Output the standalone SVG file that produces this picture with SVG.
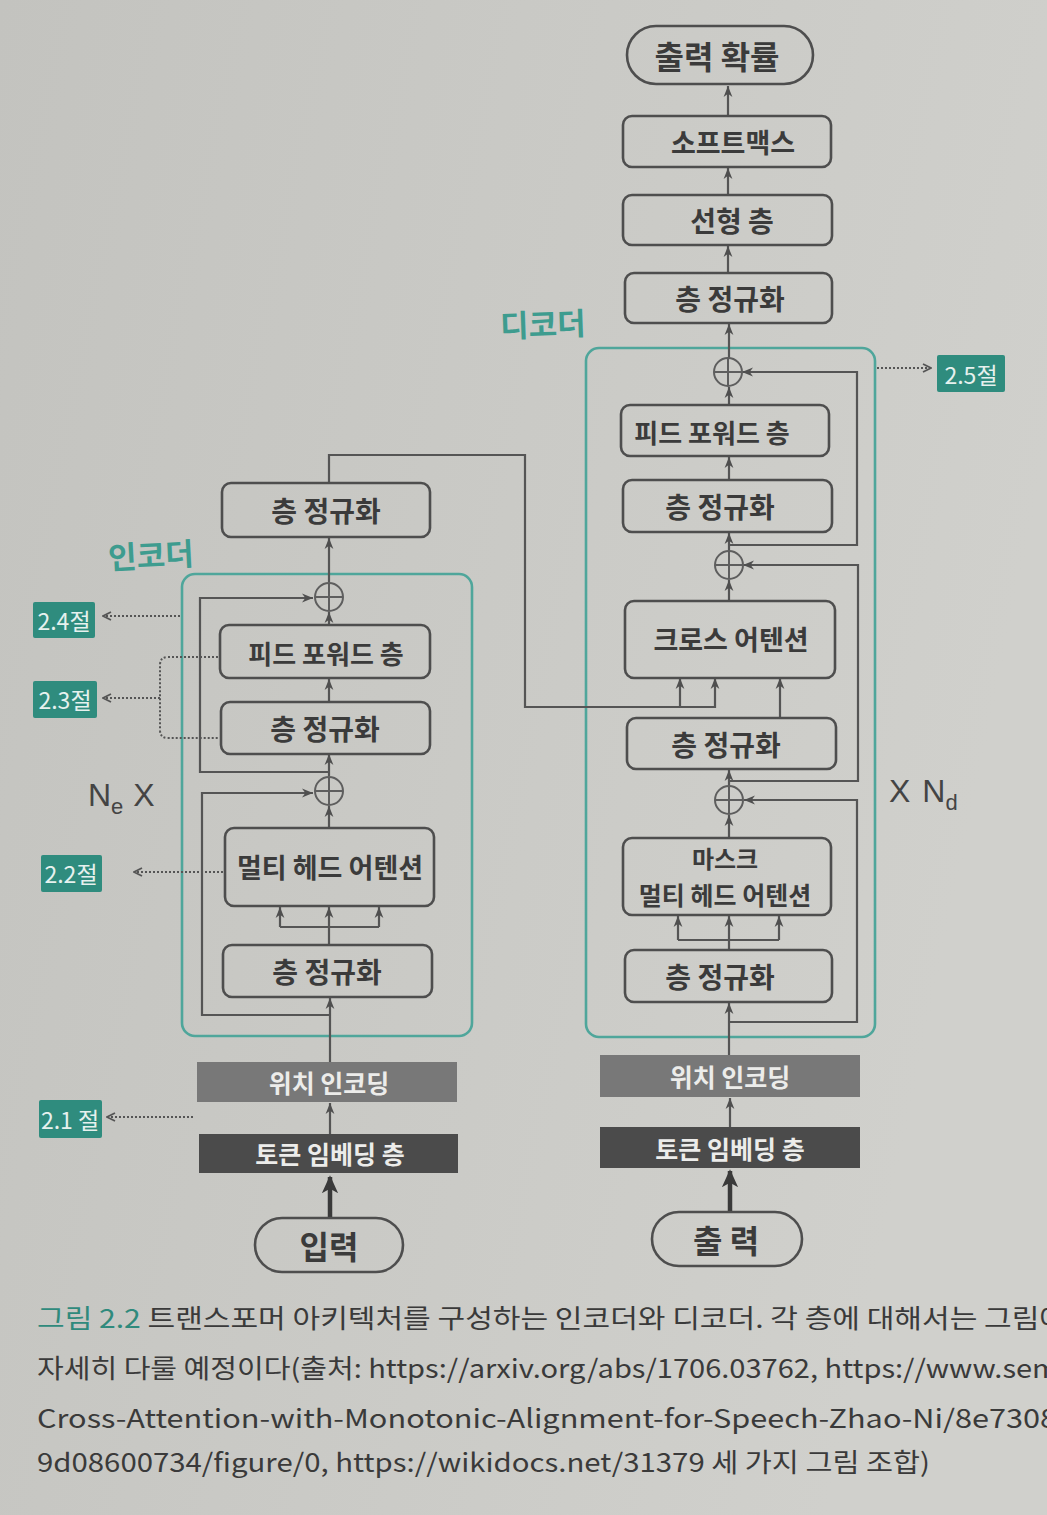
<svg xmlns="http://www.w3.org/2000/svg" width="1047" height="1515" viewBox="0 0 1047 1515">
<defs>
<linearGradient id="bg" x1="0" y1="0" x2="1" y2="0.3">
<stop offset="0" stop-color="#c3c3bf"/>
<stop offset="1" stop-color="#d0d0cc"/>
</linearGradient>
<marker id="ah" viewBox="0 0 10 10" refX="10" refY="5" markerWidth="11" markerHeight="11" markerUnits="userSpaceOnUse" orient="auto"><path d="M0,1 L10,5 L0,9 L3,5 z" fill="#4f4f4f"/></marker>
<marker id="ahT" viewBox="0 0 10 10" refX="9" refY="5" markerWidth="18" markerHeight="18" markerUnits="userSpaceOnUse" orient="auto"><path d="M0,0.5 L10,5 L0,9.5 L2.5,5 z" fill="#3a3a3a"/></marker>
<marker id="ahD" viewBox="0 0 10 10" refX="9" refY="5" markerWidth="10" markerHeight="10" markerUnits="userSpaceOnUse" orient="auto"><path d="M1,1 L9,5 L1,9" fill="none" stroke="#555" stroke-width="1.8"/></marker>
</defs>
<style>
.box{fill:none;stroke:#4e4e4e;stroke-width:2.6}
.lbl{font-family:"Noto Sans CJK KR","Noto Sans",sans-serif;font-weight:700;fill:#3b3b3b;text-anchor:middle;dominant-baseline:central}
.wl{font-family:"Noto Sans CJK KR","Noto Sans",sans-serif;font-weight:700;fill:#ececea;text-anchor:middle;dominant-baseline:central;font-size:25px}
.cont{fill:none;stroke:#4fa69b;stroke-width:2.6}
.ln{fill:none;stroke:#555;stroke-width:2.2;marker-end:url(#ah)}
.lnn{fill:none;stroke:#555;stroke-width:2.2}
.thick{fill:none;stroke:#3a3a3a;stroke-width:4.5;marker-end:url(#ahT)}
.dot{fill:none;stroke:#555;stroke-width:2;stroke-dasharray:2 2}
.dota{fill:none;stroke:#555;stroke-width:2;stroke-dasharray:2 2;marker-end:url(#ahD)}
.tag{fill:#2f8c7e}
.tagt{font-family:"Noto Sans CJK KR","Noto Sans",sans-serif;font-weight:400;fill:#e6f1ee;font-size:23px;text-anchor:middle;dominant-baseline:central}
.plus{fill:none;stroke:#5e5e5e;stroke-width:2}
.teal{font-family:"Noto Sans CJK KR","Noto Sans",sans-serif;font-weight:700;fill:#3e9c8f;font-size:31px}
.nx{font-family:"Liberation Sans",Arial,sans-serif;fill:#444;font-size:32px}
.cap{font-family:"Noto Sans CJK KR","Noto Sans",sans-serif;font-size:26px;fill:#3a3a3a}
</style>
<rect x="0" y="0" width="1047" height="1515" fill="url(#bg)"/>

<!-- containers and side labels -->
<g id="encoder-block">
<rect class="cont" x="182" y="574" width="290" height="462" rx="13"/>
<text class="teal" x="108" y="567" transform="rotate(-3 150 555)">인코더</text>
<text class="nx" x="88" y="806">N<tspan font-size="22" dy="8">e</tspan><tspan dy="-8" dx="10">X</tspan></text>
</g>
<g id="decoder-block">
<rect class="cont" x="586" y="348" width="289" height="689" rx="13"/>
<text class="teal" x="500" y="336" transform="rotate(-2 545 322)">디코더</text>
<text class="nx" x="889" y="802">X<tspan dx="12">N</tspan><tspan font-size="22" dy="8">d</tspan></text>
</g>

<!-- connectors -->
<g id="connectors">
<!-- encoder -->
<path class="thick" d="M330,1218 L330,1177"/>
<path class="ln" d="M330,1134 L330,1103"/>
<path class="ln" d="M330,1062 L330,998"/>
<path class="ln" d="M330,1015 L202,1015 L202,793 L313,793"/>
<path class="lnn" d="M329,945 L329,927 M280,927 L379,927"/>
<path class="ln" d="M280,927 L280,907"/>
<path class="ln" d="M329,927 L329,907"/>
<path class="ln" d="M379,927 L379,907"/>
<path class="ln" d="M329,828 L329,806"/>
<path class="ln" d="M329,776 L329,754"/>
<path class="ln" d="M329,772 L200,772 L200,598 L313,598"/>
<path class="ln" d="M329,702 L329,679"/>
<path class="ln" d="M329,625 L329,612"/>
<path class="ln" d="M329,582 L329,538"/>
<path class="ln" d="M329,483 L329,455 L525,455 L525,707 L715,707 L715,678"/>
<path class="ln" d="M680,707 L680,678"/>
<!-- decoder -->
<path class="thick" d="M730,1212 L730,1171"/>
<path class="ln" d="M730,1127 L730,1098"/>
<path class="ln" d="M729,1055 L729,1003"/>
<path class="ln" d="M729,1022 L857,1022 L857,800 L744,800"/>
<path class="lnn" d="M729,950 L729,940 M678,940 L779,940"/>
<path class="ln" d="M678,940 L678,916"/>
<path class="ln" d="M729,940 L729,916"/>
<path class="ln" d="M779,940 L779,916"/>
<path class="ln" d="M729,838 L729,815"/>
<path class="ln" d="M729,786 L729,770"/>
<path class="ln" d="M729,781 L858,781 L858,565 L743,565"/>
<path class="ln" d="M780,718 L780,678"/>
<path class="ln" d="M729,601 L729,580"/>
<path class="ln" d="M729,551 L729,533"/>
<path class="ln" d="M729,545 L857,545 L857,372 L742,372"/>
<path class="ln" d="M729,480 L729,457"/>
<path class="ln" d="M729,405 L729,387"/>
<path class="ln" d="M729,358 L729,324"/>
<path class="ln" d="M728,273 L728,246"/>
<path class="ln" d="M728,195 L728,168"/>
<path class="ln" d="M728,116 L728,86"/>
<!-- dotted references -->
<path class="dota" d="M877,368 L931,368"/>
<path class="dota" d="M180,616 L103,616"/>
<path class="dot" d="M218,657 L168,657 Q160,657 160,665 L160,730 Q160,738 168,738 L218,738"/>
<path class="dota" d="M160,698 L103,698"/>
<path class="dota" d="M223,872 L134,872"/>
<path class="dota" d="M193,1117 L107,1117"/>
</g>

<!-- encoder nodes -->
<g id="enc-input"><rect class="box" x="255" y="1218" width="148" height="54" rx="27"/><text class="lbl" x="329" y="1245" font-size="32">입력</text></g>
<g id="enc-token-emb"><rect x="199" y="1134" width="259" height="39" fill="#4b4b4b"/><text class="wl" x="330" y="1153">토큰 임베딩 층</text></g>
<g id="enc-pos-enc"><rect x="197" y="1062" width="260" height="40" fill="#787878"/><text class="wl" x="329" y="1082">위치 인코딩</text></g>
<g id="enc-norm1"><rect class="box" x="223" y="945" width="209" height="52" rx="9"/><text class="lbl" x="327" y="971" font-size="28">층 정규화</text></g>
<g id="enc-mha"><rect class="box" x="225" y="828" width="209" height="78" rx="9"/><text class="lbl" x="330" y="866" font-size="27">멀티 헤드 어텐션</text></g>
<g id="enc-add1"><circle class="plus" cx="329" cy="791" r="14"/><path class="plus" d="M315,791 H343 M329,777 V805"/></g>
<g id="enc-norm2"><rect class="box" x="221" y="702" width="209" height="52" rx="9"/><text class="lbl" x="325" y="728" font-size="28">층 정규화</text></g>
<g id="enc-ff"><rect class="box" x="220" y="625" width="210" height="53" rx="9"/><text class="lbl" x="326" y="652" font-size="26">피드 포워드 층</text></g>
<g id="enc-add2"><circle class="plus" cx="329" cy="597" r="14"/><path class="plus" d="M315,597 H343 M329,583 V611"/></g>
<g id="enc-norm-out"><rect class="box" x="222" y="483" width="208" height="54" rx="9"/><text class="lbl" x="326" y="510" font-size="28">층 정규화</text></g>

<!-- decoder nodes -->
<g id="dec-output-in"><rect class="box" x="652" y="1212" width="150" height="54" rx="27"/><text class="lbl" x="726" y="1239" font-size="32">출 력</text></g>
<g id="dec-token-emb"><rect x="600" y="1127" width="260" height="41" fill="#4b4b4b"/><text class="wl" x="730" y="1148">토큰 임베딩 층</text></g>
<g id="dec-pos-enc"><rect x="600" y="1055" width="260" height="42" fill="#787878"/><text class="wl" x="730" y="1076">위치 인코딩</text></g>
<g id="dec-norm1"><rect class="box" x="625" y="950" width="207" height="52" rx="9"/><text class="lbl" x="720" y="976" font-size="28">층 정규화</text></g>
<g id="dec-mmha"><rect class="box" x="623" y="838" width="208" height="77" rx="9"/><text class="lbl" x="725" y="857" font-size="24">마스크</text><text class="lbl" x="725" y="894" font-size="25">멀티 헤드 어텐션</text></g>
<g id="dec-add1"><circle class="plus" cx="729" cy="800" r="14"/><path class="plus" d="M715,800 H743 M729,786 V814"/></g>
<g id="dec-norm2"><rect class="box" x="627" y="718" width="209" height="51" rx="9"/><text class="lbl" x="726" y="744" font-size="28">층 정규화</text></g>
<g id="dec-cross"><rect class="box" x="625" y="601" width="210" height="77" rx="9"/><text class="lbl" x="731" y="638" font-size="27">크로스 어텐션</text></g>
<g id="dec-add2"><circle class="plus" cx="729" cy="565" r="14"/><path class="plus" d="M715,565 H743 M729,551 V579"/></g>
<g id="dec-norm3"><rect class="box" x="623" y="480" width="209" height="52" rx="9"/><text class="lbl" x="720" y="506" font-size="28">층 정규화</text></g>
<g id="dec-ff"><rect class="box" x="621" y="405" width="208" height="51" rx="9"/><text class="lbl" x="712" y="431" font-size="26">피드 포워드 층</text></g>
<g id="dec-add3"><circle class="plus" cx="728" cy="372" r="14"/><path class="plus" d="M714,372 H742 M728,358 V386"/></g>
<g id="dec-norm-out"><rect class="box" x="625" y="273" width="207" height="50" rx="9"/><text class="lbl" x="730" y="298" font-size="28">층 정규화</text></g>
<g id="dec-linear"><rect class="box" x="623" y="195" width="209" height="50" rx="9"/><text class="lbl" x="732" y="220" font-size="28">선형 층</text></g>
<g id="dec-softmax"><rect class="box" x="623" y="116" width="208" height="51" rx="9"/><text class="lbl" x="733" y="141" font-size="27">소프트맥스</text></g>
<g id="dec-prob"><rect class="box" x="627" y="26" width="186" height="58" rx="29"/><text class="lbl" x="717" y="55" font-size="32">출력 확률</text></g>

<!-- section tags -->
<g id="tag-25"><rect class="tag" x="937" y="355" width="68" height="37" rx="2"/><text class="tagt" x="971" y="374">2.5절</text></g>
<g id="tag-24"><rect class="tag" x="33" y="602" width="62" height="36" rx="2"/><text class="tagt" x="64" y="620">2.4절</text></g>
<g id="tag-23"><rect class="tag" x="33" y="681" width="64" height="37" rx="2"/><text class="tagt" x="65" y="699">2.3절</text></g>
<g id="tag-22"><rect class="tag" x="41" y="855" width="61" height="37" rx="2"/><text class="tagt" x="71" y="873">2.2절</text></g>
<g id="tag-21"><rect class="tag" x="39" y="1100" width="63" height="38" rx="2"/><text class="tagt" x="70" y="1119">2.1 절</text></g>

<!-- caption -->
<g id="caption">
<text class="cap" x="37" y="1328" textLength="1030" lengthAdjust="spacingAndGlyphs"><tspan fill="#2f8a7c">그림 2.2</tspan> 트랜스포머 아키텍처를 구성하는 인코더와 디코더. 각 층에 대해서는 그림에</text>
<text class="cap" x="37" y="1378" textLength="1022" lengthAdjust="spacingAndGlyphs">자세히 다룰 예정이다(출처: https://arxiv.org/abs/1706.03762, https://www.sem</text>
<text class="cap" x="37" y="1428" textLength="1020" lengthAdjust="spacingAndGlyphs">Cross-Attention-with-Monotonic-Alignment-for-Speech-Zhao-Ni/8e7308</text>
<text class="cap" x="37" y="1472" textLength="893" lengthAdjust="spacingAndGlyphs">9d08600734/figure/0, https://wikidocs.net/31379 세 가지 그림 조합)</text>
</g>
</svg>
